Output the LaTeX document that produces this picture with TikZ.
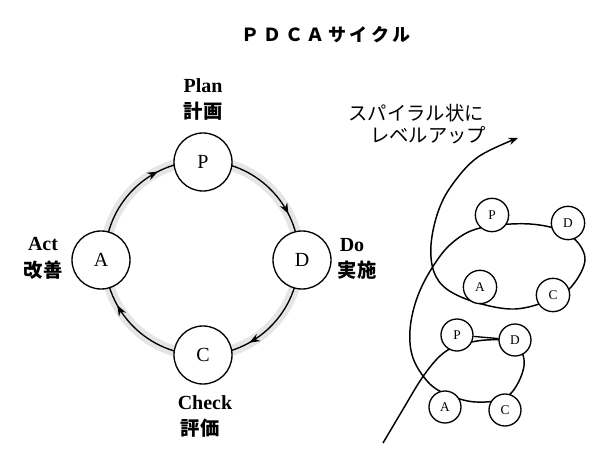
\documentclass[tikz,border=0pt]{standalone}
\usepackage{fontspec}
\setmainfont{Liberation Serif}
\newfontfamily\cjk{Noto Sans CJK JP}
\newfontfamily\cjktitle[LetterSpace=20]{Noto Sans CJK JP}
\usetikzlibrary{arrows.meta,decorations.markings}
\begin{document}
\begin{tikzpicture}[x=0.75pt,y=-0.75pt,
  stage/.style={circle,draw,line width=1pt,fill=white,minimum size=43.5pt,inner sep=0pt,font=\fontsize{15}{15}\selectfont},
  mini/.style={circle,draw,line width=1pt,fill=white,minimum size=25pt,inner sep=0pt,font=\fontsize{10}{10}\selectfont},
  minis/.style={mini,minimum size=24pt},
  lab/.style={font=\bfseries\fontsize{15}{15}\selectfont,inner sep=0pt},
  jlab/.style={font=\cjk\bfseries\fontsize{14.5}{14.5}\selectfont,inner sep=0pt},
  cyc/.style={line width=1pt},
  tipa/.style={-{Stealth[length=7pt,width=5.5pt]}}]
\useasboundingbox (0,0) rectangle (604,452);
\fill[white] (0,0) rectangle (604,452);
% title
\node[font=\cjktitle\bfseries\fontsize{13.5}{13.5}\selectfont,inner sep=0pt] (title) at (326,35) {ＰＤＣＡサイクル};
% ring
\draw[black!10,line width=8pt] (202,161) arc[start angle=90,end angle=-270,radius=72.75pt];
\draw[cyc,postaction={decorate,decoration={markings,
   mark=at position 0.175 with {\arrow{Stealth[length=8pt,width=6pt]}},
   mark=at position 0.419 with {\arrow{Stealth[length=8pt,width=6pt]}},
   mark=at position 0.669 with {\arrow{Stealth[length=8pt,width=6pt]}},
   mark=at position 0.925 with {\arrow{Stealth[length=8pt,width=6pt]}}}}]
   (202,161) arc[start angle=90,end angle=-270,radius=72.75pt];
\node[stage] (p) at (203,162) {P};
\node[stage] (d) at (302,260) {D};
\node[stage] (c) at (203,355) {C};
\node[stage] (a) at (101,260) {A};
\node[lab] (plan) at (203,86) {Plan};
\node[jlab] (planj) at (203,111) {計画};
\node[lab] (do) at (352,245) {Do};
\node[jlab] (doj) at (357,270) {実施};
\node[lab] (check) at (205,403) {Check};
\node[jlab] (checkj) at (200,428) {評価};
\node[lab] (act) at (43,244) {Act};
\node[jlab] (actj) at (43,270) {改善};
% spiral
\node[jlab,font=\cjk\fontsize{14.5}{14.5}\selectfont] (sp1) at (416,113) {スパイラル状に};
\node[jlab,font=\cjk\fontsize{14.5}{14.5}\selectfont] (sp2) at (428,135) {レベルアップ};
\draw[line width=1.1pt,tipa] plot[smooth,tension=0.6] coordinates {
 (383,443) (402,411) (422,378) (440,356) (457,346) (486,340) (515,343)
 (524,366) (508,396) (476,402) (446,394) (428,382) (413,358) (410,330)
 (417,298) (432,268) (452,243) (480,228) (530,224) (568,234) (585,258)
 (572,286) (550,300) (515,309) (478,303) (448,290) (434,272) (431,245)
 (438,212) (452,185) (478,157) (518,138)};
\node[mini] (up) at (492,215) {P};
\node[mini] (ud) at (568,223) {D};
\node[mini] (ua) at (480,287) {A};
\node[mini] (uc) at (553,295) {C};
\node[minis] (lp) at (457,335) {P};
\node[minis] (ld) at (515,340) {D};
\node[minis] (la) at (445,407) {A};
\node[minis] (lc) at (505,410) {C};
\draw[line width=1pt] (lp) -- (ld);
\end{tikzpicture}
\end{document}
